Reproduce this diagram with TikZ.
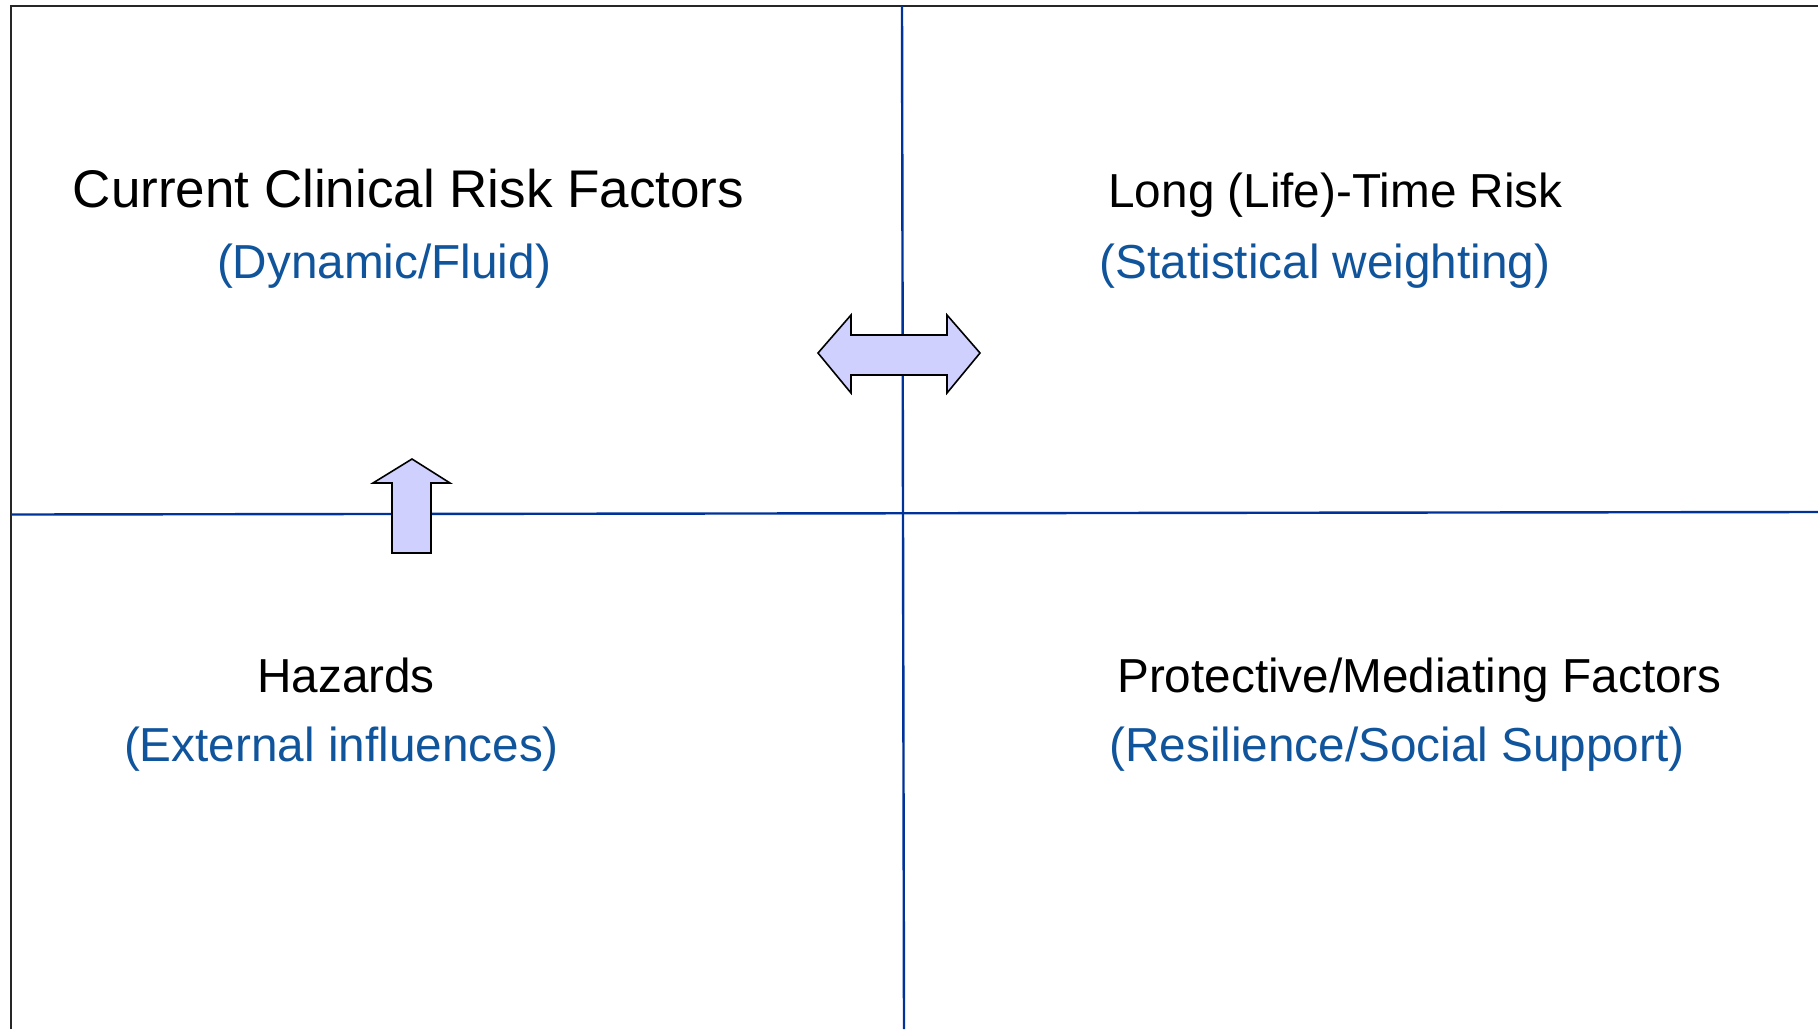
\documentclass[tikz,border=0pt]{standalone}
\usepackage{fontspec}
\setmainfont{Liberation Sans}
\usepackage[svgnames, dvipsnames]{xcolor}
\definecolor{gridblue}{RGB}{0,51,153}
\definecolor{subblue}{RGB}{16,84,156}
\definecolor{arrowfill}{RGB}{208,208,255}
\tikzset{
  headbig/.style={font=\fontsize{53}{60}\selectfont, text=black, inner sep=0pt, anchor=base},
  head/.style={font=\fontsize{47.7}{55}\selectfont, text=black, inner sep=0pt, anchor=base},
  sub/.style={font=\fontsize{47.7}{55}\selectfont, text=subblue, inner sep=0pt, anchor=base},
  gridline/.style={gridblue, line width=2.4pt},
  bigarrow/.style={fill=arrowfill, draw=black, line width=1.6pt, line join=miter}
}

\begin{document}
\begin{tikzpicture}[x=1pt, y=-1pt]
\useasboundingbox (0,0) rectangle (1818,1029);
% frame
\draw[line width=2pt, black!85] (11,1029)--(11,6)--(1818,6);
% quadrant lines
\draw[gridline] (902,6)--(904,1029);
\draw[gridline] (11,514.5)--(1818,512);
% arrows
\draw[bigarrow] (412,459)--(450,483)--(431,483)--(431,553)--(392,553)--(392,483)--(373,483)--cycle;
\draw[bigarrow] (818,353)--(851,315)--(851,335)--(947,335)--(947,315)--(980,353)--(947,393)--(947,375)--(851,375)--(851,393)--cycle;
% labels
\node[headbig] (clinical) at (408.5,207) {Current Clinical Risk Factors};
\node[sub] (dynamic) at (384,278) {(Dynamic/Fluid)};
\node[head] (longterm) at (1335.5,207) {Long (Life)-Time Risk};
\node[sub] (statistical) at (1325,278) {(Statistical weighting)};
\node[head] (hazards) at (346,692) {Hazards};
\node[sub] (external) at (341.5,761) {(External influences)};
\node[head] (protective) at (1419.5,692) {Protective/Mediating Factors};
\node[sub] (resilience) at (1397,761) {(Resilience/Social Support)};
\end{tikzpicture}
\end{document}
